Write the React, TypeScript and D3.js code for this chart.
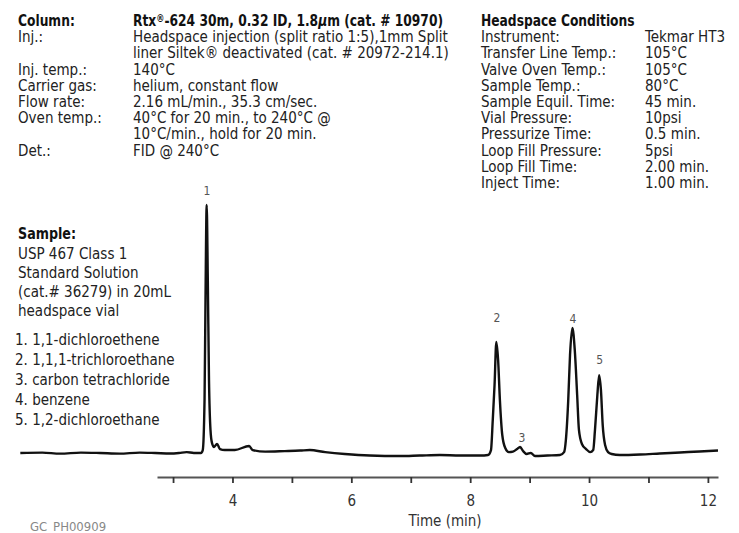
import React, { useEffect, useRef } from 'react';
import * as d3 from 'd3';

// chromatogram trace (time in min, detector signal in arbitrary units)
const traceTime = [
  0.43, 0.8, 1.1, 1.45, 1.77, 2.1, 2.44, 2.7, 2.95, 3.1, 3.23, 3.35, 3.47, 3.5, 3.53, 3.546, 3.566,
  3.585, 3.605, 3.63, 3.655, 3.69, 3.74, 3.79, 3.87, 4.04, 4.28, 4.34, 4.55, 4.88, 5.14, 5.3, 5.56,
  5.89, 6.31, 6.82, 7.15, 7.49, 7.83, 8.17, 8.3, 8.35, 8.38, 8.41, 8.44, 8.47, 8.5, 8.54, 8.59, 8.65,
  8.72, 8.79, 8.84, 8.89, 8.95, 9.02, 9.09, 9.3, 9.51, 9.58, 9.61, 9.65, 9.68, 9.72, 9.76, 9.8, 9.83,
  9.88, 9.95, 10.02, 10.07, 10.1, 10.14, 10.17, 10.2, 10.23, 10.27, 10.32, 10.38, 10.52, 10.86,
  11.19, 11.53, 11.86, 12.17,
];
const traceSignal = [
  2.75, 2.9, 2.5, 2.9, 2.75, 2.5, 2.9, 2.75, 2.55, 2.75, 3.1, 2.75, 2.75, 3.9, 23.5, 62.7, 100,
  70.6, 31.4, 11.8, 6.7, 5.1, 6.3, 4.3, 3.9, 3.9, 5.5, 3.9, 3.3, 3.5, 3.7, 3.9, 3.1,
  2.35, 1.75, 1.55, 1.75, 1.95, 1.75, 1.75, 1.95, 3.9, 15.7, 29.4, 46.3, 39.2, 23.5, 9.8, 4.7, 3.1,
  3.3, 4.3, 5.1, 3.5, 2.35, 2.75, 1.55, 1.75, 1.95, 3.1, 7.8, 23.5, 41.2, 51.8, 43.1, 25.5, 11.8,
  6.3, 4.3, 3.1, 3.9, 11.8, 25.5, 33.3, 27.5, 13.7, 5.9, 3.1, 2.35, 1.95, 2.15,
  2.55, 2.95, 3.35, 3.7,
];

const peakLabels = ['1', '2', '3', '4', '5'];
const peakTimes = [3.57, 8.45, 8.87, 9.73, 10.18];
const peakLabelLevels = [105.5, 55.7, 8.6, 55.3, 39.2];

const axisTicks = [3, 4, 5, 6, 7, 8, 9, 10, 11, 12];
const axisLabelTicks = [4, 6, 8, 10, 12];

const columnLabels = ['Inj.:', '', 'Inj. temp.:', 'Carrier gas:', 'Flow rate:', 'Oven temp.:', '', 'Det.:'];
const columnValues = [
  'Headspace injection (split ratio 1:5),1mm Split',
  'liner Siltek\u00AE deactivated (cat. # 20972-214.1)',
  '140\u00B0C',
  'helium, constant flow',
  '2.16 mL/min., 35.3 cm/sec.',
  '40\u00B0C for 20 min., to 240\u00B0C @',
  '10\u00B0C/min., hold for 20 min.',
  'FID @ 240\u00B0C',
];

const hsLabels = [
  'Instrument:', 'Transfer Line Temp.:', 'Valve Oven Temp.:', 'Sample Temp.:', 'Sample Equil. Time:',
  'Vial Pressure:', 'Pressurize Time:', 'Loop Fill Pressure:', 'Loop Fill Time:', 'Inject Time:',
];
const hsValues = [
  'Tekmar HT3', '105\u00B0C', '105\u00B0C', '80\u00B0C', '45 min.', '10psi', '0.5 min.', '5psi', '2.00 min.', '1.00 min.',
];

const sampleLines = ['USP 467 Class 1', 'Standard Solution', '(cat.# 36279) in 20mL', 'headspace vial'];
const compounds = [
  '1,1-dichloroethene',
  '1,1,1-trichloroethane',
  'carbon tetrachloride',
  'benzene',
  '1,2-dichloroethane',
];

const FONT = "'DejaVu Sans Condensed', 'Liberation Sans Narrow', 'Liberation Sans', sans-serif";

// bold headings in the reference are a little narrower than DejaVu Sans Condensed Bold
const Bold = ({ x, y, size, children }: { x: number; y: number; size: number; children: any }) => (
  <text transform={`translate(${x},${y}) scale(0.91,1)`} fontWeight="bold" fontSize={size} fill="#111">
    {children}
  </text>
);

const App = () => {
  const axisRef = useRef<SVGGElement>(null);

  const width = 739;
  const height = 533;
  const axisY = 477;

  const x = d3.scaleLinear().domain([2.73, 12.17]).range([157, 718]);
  const y = d3.scaleLinear().domain([0, 100]).range([460, 205]);

  const points: [number, number][] = traceTime.map((t, i) => [t, traceSignal[i]]);
  const line = d3
    .line<[number, number]>()
    .x(d => x(d[0]))
    .y(d => y(d[1]))
    .curve(d3.curveMonotoneX);

  useEffect(() => {
    const g = d3.select(axisRef.current);
    g.selectAll('*').remove();
    const axis = d3
      .axisBottom(x)
      .tickValues(axisTicks)
      .tickSize(6)
      .tickSizeOuter(0)
      .tickPadding(12)
      .tickFormat(d => (axisLabelTicks.includes(+d) ? String(d) : ''));
    g.call(axis as any);
    g.select('.domain').attr('stroke', '#555').attr('stroke-width', 2.2);
    g.selectAll('.tick line').attr('stroke', '#333').attr('stroke-width', 1.8);
    g.selectAll('.tick text')
      .attr('fill', '#333')
      .style('font-family', FONT)
      .style('font-size', '15px');
  }, []);

  const rowH = 16.2;
  const topY = 26;

  return (
    <svg
      width={width}
      height={height}
      style={{ position: 'absolute', left: 0, top: 0, background: '#fff' }}
      fontFamily={FONT}
    >
      {/* column / GC conditions */}
      <g fill="#222" fontSize={15}>
        <Bold x={18} y={topY} size={15}>Column:</Bold>
        <Bold x={133} y={topY} size={15}>
          Rtx<tspan fontSize={10} dy={-4}>{'\u00AE'}</tspan>
          <tspan dy={4}>-624 30m, 0.32 ID, 1.8</tspan>
          <tspan fontStyle="italic">{'\u00B5'}</tspan>m (cat. # 10970)
        </Bold>
        {columnLabels.map((l, i) => (
          <text key={'cl' + i} x={18} y={topY + (i + 1) * rowH}>{l}</text>
        ))}
        {columnValues.map((v, i) => (
          <text key={'cv' + i} x={133} y={topY + (i + 1) * rowH}>{v}</text>
        ))}
      </g>

      {/* headspace conditions */}
      <g fill="#222" fontSize={15}>
        <Bold x={481} y={topY} size={15}>Headspace Conditions</Bold>
        {hsLabels.map((l, i) => (
          <text key={'hl' + i} x={481} y={topY + (i + 1) * rowH}>{l}</text>
        ))}
        {hsValues.map((v, i) => (
          <text key={'hv' + i} x={645} y={topY + (i + 1) * rowH}>{v}</text>
        ))}
      </g>

      {/* sample */}
      <g fill="#222" fontSize={15}>
        <Bold x={18} y={239} size={15.5}>Sample:</Bold>
        {sampleLines.map((s, i) => (
          <text key={'s' + i} x={18} y={258.5 + i * 19.3}>{s}</text>
        ))}
        {compounds.map((c, i) => (
          <text key={'c' + i} x={15} y={345 + i * 20}>{`${i + 1}. ${c}`}</text>
        ))}
      </g>

      {/* trace */}
      <path d={line(points) || ''} fill="none" stroke="#111" strokeWidth={2.4} strokeLinejoin="round" />

      {/* peak labels */}
      <g fill="#555" fontSize={12} textAnchor="middle">
        {peakLabels.map((p, i) => (
          <text key={'p' + i} x={x(peakTimes[i])} y={y(peakLabelLevels[i]) + 4}>{p}</text>
        ))}
      </g>

      <g ref={axisRef} transform={`translate(0,${axisY})`} />

      <text x={445} y={526} textAnchor="middle" fontSize={15} fill="#333">Time (min)</text>
      <text x={30} y={531} fontSize={13} fill="#888">GC_PH00909</text>
    </svg>
  );
};

export default App;
